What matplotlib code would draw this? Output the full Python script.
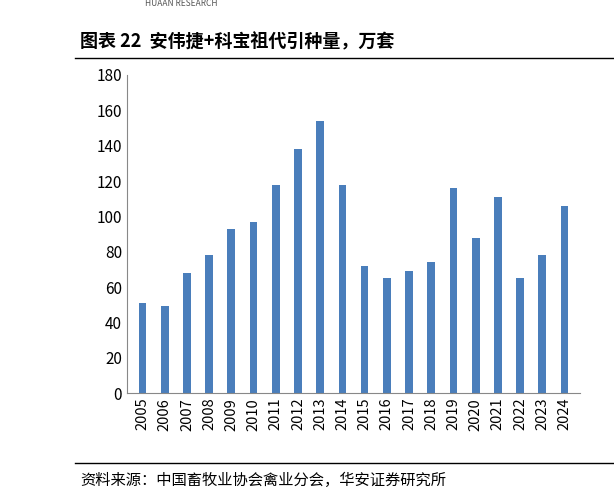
import matplotlib
matplotlib.use("Agg")
import matplotlib.pyplot as plt

plt.rcParams["font.family"] = ["Noto Sans CJK SC", "DejaVu Sans"]

years = [str(y) for y in range(2005, 2025)]
values = [51, 49, 68, 78, 93, 97, 118, 138, 154, 118, 72, 65, 69, 74, 116, 88, 111, 65, 78, 106]
yticks = list(range(0, 181, 20))

fig = plt.figure(figsize=(6.14, 5.0), dpi=100)
ax = fig.add_axes([127/614, 1-393/500, (580-127)/614, (393-75)/500])
ax.bar(range(len(years)), values, width=0.35, color="#4A7EBB")
ax.set_xlim(-0.7, len(years)-0.3)
ax.set_ylim(0, 180)
ax.set_yticks(yticks)
ax.set_xticks(range(len(years)))
ax.set_xticklabels(years, rotation=90, fontsize=10.5)
ax.tick_params(axis="y", labelsize=11, length=0)
ax.tick_params(axis="x", length=0)
for s in ["top", "right"]:
    ax.spines[s].set_visible(False)
ax.spines["left"].set_color("#888888")
ax.spines["bottom"].set_color("#888888")

fig.text(80/614, 1-42/500, "图表 22  安伟捷+科宝祖代引种量，万套", fontsize=13, fontweight="bold", va="center")
fig.text(145/614, 1-3/500, "HUAAN RESEARCH", fontsize=6, color="#555555", va="center")
fig.add_artist(plt.Line2D([75/614, 1], [1-58/500, 1-58/500], color="black", lw=1))
fig.add_artist(plt.Line2D([75/614, 1], [1-463/500, 1-463/500], color="black", lw=1))
fig.text(80/614, 1-480/500, "资料来源：中国畜牧业协会禽业分会，华安证券研究所", fontsize=11, va="center")

fig.savefig("out.png", dpi=100)
